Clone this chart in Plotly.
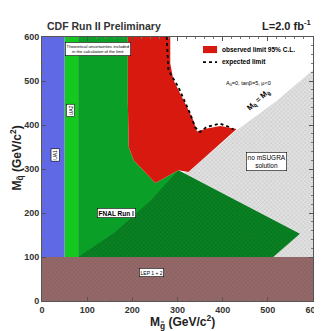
import plotly.graph_objects as go

# ---- data (GeV/c^2) ----
lep_x = [0, 600, 600, 0]
lep_y = [0, 0, 100, 100]

ua1_x = [0, 50, 50, 0]
ua1_y = [100, 100, 600, 600]

ua2_x = [50, 80, 80, 50]
ua2_y = [100, 100, 600, 600]

green_x = [80, 80, 190, 190, 192, 203, 251, 302, 330, 240]
green_y = [100, 600, 600, 456, 350, 320, 268, 297, 250, 100]

nosugra_x = [300, 324, 431, 520, 600, 600, 300]
nosugra_y = [290, 293, 388, 455, 525, 100, 100]

fnal_x = [80, 160, 240, 302, 571, 512]
fnal_y = [100, 155, 228, 297, 153, 100]

obs_x = [190, 284, 284, 291, 321, 335, 343, 365, 395, 431, 324, 302, 251, 203, 192, 190]
obs_y = [600, 600, 540, 502, 441, 411, 385, 392, 398, 391, 293, 297, 268, 320, 350, 456]

exp_x = [276, 280, 302, 328, 339, 350, 365, 394, 413, 424]
exp_y = [600, 524, 486, 426, 395, 384, 396, 403, 396, 390]

FONT = "Liberation Sans, Arial, sans-serif"

fig = go.Figure()

def region(x, y, color, pattern=None):
    kw = dict(x=x + [x[0]], y=y + [y[0]], mode="lines", fill="toself",
              fillcolor=color, line=dict(width=0, color=color),
              hoverinfo="skip", showlegend=False)
    if pattern:
        kw["fillpattern"] = pattern
    fig.add_trace(go.Scatter(**kw))

region(nosugra_x, nosugra_y, "rgb(222,222,222)",
       dict(shape="x", size=3, solidity=0.3, fgcolor="rgb(165,165,165)", bgcolor="rgb(225,225,225)"))
region(green_x, green_y, "rgb(10,160,40)")
region(ua2_x, ua2_y, "rgb(20,200,30)")
region(ua1_x, ua1_y, "rgb(95,105,230)")
region(fnal_x, fnal_y, "rgb(10,125,35)",
       dict(shape="x", size=3, solidity=0.35, fgcolor="rgb(0,90,20)", bgcolor="rgb(10,130,35)"))
region(obs_x, obs_y, "rgb(215,25,15)")
region(lep_x, lep_y, "rgb(145,100,100)",
       dict(shape="x", size=3, solidity=0.3, fgcolor="rgb(110,75,75)", bgcolor="rgb(150,105,105)"))

fig.add_trace(go.Scatter(x=exp_x, y=exp_y, mode="lines",
                         line=dict(color="black", width=1.8, dash="dot"),
                         hoverinfo="skip", showlegend=False))

ann = []
def box(text, x, y, size, angle=0, bold=False):
    ann.append(dict(x=x, y=y, xref="x", yref="y", text=text, showarrow=False,
                    xanchor="center", yanchor="middle",
                    textangle=angle, bgcolor="white", bordercolor="black", borderwidth=0.6,
                    borderpad=1, font=dict(family=FONT, size=size, color="black",
                                           weight="bold" if bold else "normal")))

box("Theoretical uncertainties included<br>in the calculation of the limit", 125, 572, 4.2)
box("UA1", 29, 331, 5, -90)
box("UA2", 63, 433, 5, -90)
box("FNAL Run I", 166, 200, 6.5, bold=True)
box("LEP 1 + 2", 243, 64, 5)
box("no mSUGRA<br>solution", 498, 316, 6.5)

ann.append(dict(x=457, y=494, xref="x", yref="y", showarrow=False,
                xanchor="center", yanchor="middle",
                text="A<sub>0</sub>=0, tanβ=5, μ<0",
                font=dict(family=FONT, size=5.5, color="black")))
ann.append(dict(x=480, y=456, xref="x", yref="y", showarrow=False, textangle=-42,
                xanchor="center", yanchor="middle",
                text="M<sub>q̃</sub> = M<sub>g̃</sub>",
                font=dict(family=FONT, size=7.5, color="black", weight="bold")))

# legend
ann.append(dict(x=0.655, y=0.953, xref="paper", yref="paper", xanchor="left", yanchor="middle",
                showarrow=False, text="observed limit 95% C.L.",
                font=dict(family=FONT, size=6.5, color="black", weight="bold")))
ann.append(dict(x=0.655, y=0.905, xref="paper", yref="paper", xanchor="left", yanchor="middle",
                showarrow=False, text="expected limit",
                font=dict(family=FONT, size=6.5, color="black", weight="bold")))

# header
ann.append(dict(x=0.01, y=1.01, xref="paper", yref="paper", xanchor="left", yanchor="bottom",
                showarrow=False, text="CDF Run II Preliminary",
                font=dict(family=FONT, size=10.5, color="#333", weight="bold")))
ann.append(dict(x=1.0, y=1.01, xref="paper", yref="paper", xanchor="right", yanchor="bottom",
                showarrow=False, text="L=2.0 fb<sup>-1</sup>",
                font=dict(family=FONT, size=11, color="#222", weight="bold")))

# axis titles
ann.append(dict(x=0.52, y=-0.078, xref="paper", yref="paper", showarrow=False,
                xanchor="center", yanchor="middle",
                text="M<sub>g̃</sub> (GeV/c<sup>2</sup>)",
                font=dict(family=FONT, size=12, color="#222", weight="bold")))
ann.append(dict(x=-0.092, y=0.54, xref="paper", yref="paper", showarrow=False, textangle=-90,
                xanchor="center", yanchor="middle",
                text="M<sub>q̃</sub> (GeV/c<sup>2</sup>)",
                font=dict(family=FONT, size=12, color="#222", weight="bold")))

shapes = [
    dict(type="rect", xref="paper", yref="paper", x0=0.594, x1=0.646, y0=0.939, y1=0.966,
         fillcolor="rgb(215,25,15)", line=dict(width=0)),
    dict(type="line", xref="paper", yref="paper", x0=0.594, x1=0.646, y0=0.905, y1=0.905,
         line=dict(color="black", width=1.8, dash="dot")),
]

axis_common = dict(range=[0, 600], showgrid=False, zeroline=False, showline=True,
                   linecolor="#555", linewidth=1, mirror="ticks", ticks="inside",
                   ticklen=4, tickcolor="#555", dtick=100, automargin=False,
                   minor=dict(ticks="inside", ticklen=2, dtick=20, tickcolor="#777"),
                   tickfont=dict(family=FONT, size=9, color="#333", weight="bold"))

# page body has an 8px margin: figure offset by (8, 8) in the window
fig.update_layout(
    width=314, height=323,
    margin=dict(l=34, r=9, t=29, b=30),
    paper_bgcolor="white", plot_bgcolor="white",
    xaxis=dict(**axis_common),
    yaxis=dict(**axis_common),
    annotations=ann, shapes=shapes,
)

fig.write_html("out.html")
